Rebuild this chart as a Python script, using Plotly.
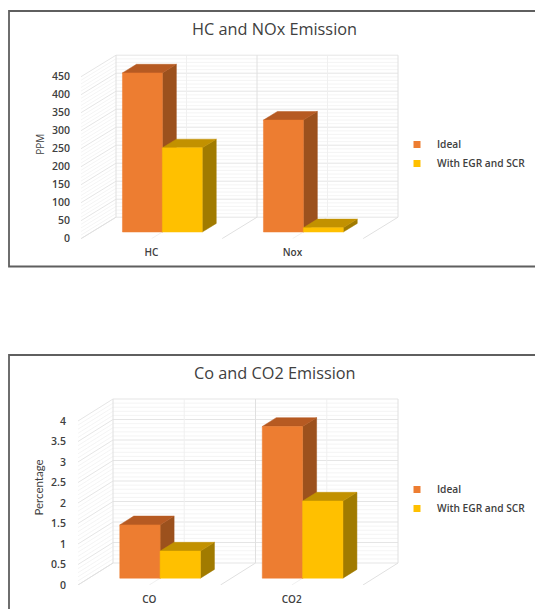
import plotly.graph_objects as go

FIG_W, FIG_H = 535, 609

series_names = ["Ideal", "With EGR and SCR"]

categories_top = ["HC", "Nox"]
ideal_top = [442, 311]
egr_top = [234, 12]
ticks_top = [0, 50, 100, 150, 200, 250, 300, 350, 400, 450]

categories_bottom = ["CO", "CO2"]
ideal_bottom = [1.3, 3.7]
egr_bottom = [0.66, 1.88]
ticks_bottom = [0, 0.5, 1, 1.5, 2, 2.5, 3, 3.5, 4]
ticktext_bottom = ["0", "0.5", "1", "1.5", "2", "2.5", "3", "3.5", "4"]

FRONT = {"Ideal": "#ED7D31", "With EGR and SCR": "#FFC000"}
TOP = {"Ideal": "#B65A22", "With EGR and SCR": "#C29100"}
SIDE = {"Ideal": "#9C511D", "With EGR and SCR": "#A17B00"}
TEXT = "#404040"
FONT = "Open Sans"

BAR_W = 0.283
BAR_D0, BAR_D1 = 0.31, 0.71

fig = go.Figure()
lay = {}


def panel(idx, cats, s1, s2, ticks, ticktext, ytitle, title_font,
          left, catw, y0px, toppx, pxunit, dxpx, dypx, minor_div, tick_standoff,
          title_standoff, legend_top, x_standoff):
    suffix = "" if idx == 1 else str(idx)
    xa, ya = "x" + suffix, "y" + suffix
    dx = dxpx / catw
    dy = dypx / pxunit
    vtop = ticks[-1]

    def add_lines(xs, ys, color, width):
        fig.add_trace(go.Scatter(x=xs, y=ys, mode="lines", line=dict(color=color, width=width),
                                 xaxis=xa, yaxis=ya, showlegend=False, hoverinfo="skip"))

    def poly(xs, ys, color, name=None):
        fig.add_trace(go.Scatter(x=xs, y=ys, mode="lines", fill="toself", fillcolor=color,
                                 line=dict(color=color, width=0.5), xaxis=xa, yaxis=ya,
                                 showlegend=False, name=name, hoverinfo="skip"))

    L, R = -0.5, len(cats) - 0.5
    # minor grid
    xs, ys = [], []
    n = (len(ticks) - 1) * minor_div
    for i in range(n + 1):
        v = vtop * i / n
        if i % minor_div:
            xs += [L, L + dx, R + dx, None]
            ys += [v, v + dy, v + dy, None]
    add_lines(xs, ys, "#f1f1f1", 0.8)
    # major grid
    xs, ys = [], []
    for v in ticks:
        xs += [L, L + dx, R + dx, None]
        ys += [v, v + dy, v + dy, None]
    add_lines(xs, ys, "#e2e2e2", 0.9)
    # category mid lines
    xs, ys = [], []
    for k in range(len(cats)):
        xs += [k + dx, k + dx, None, k, k + dx, None]
        ys += [dy, vtop + dy, None, 0, dy, None]
    add_lines(xs, ys, "#eeeeee", 0.9)
    # category boundaries
    xs, ys = [], []
    for k in range(len(cats) + 1):
        u = L + k
        xs += [u, u + dx, u + dx, None]
        ys += [0, dy, vtop + dy, None]
    add_lines(xs, ys, "#e0e0e0", 1)

    # bars, back to front
    for k in range(len(cats)):
        for j, (name, vals) in enumerate(zip(series_names, (s1, s2))):
            v = vals[k]
            x0 = k - BAR_W + j * BAR_W + BAR_D0 * dx
            x1 = x0 + BAR_W
            b = BAR_D0 * dy
            depth_u = (BAR_D1 - BAR_D0) * dx
            depth_v = (BAR_D1 - BAR_D0) * dy
            poly([x1, x1 + depth_u, x1 + depth_u, x1, x1], [b, b + depth_v, b + depth_v + v, b + v, b], SIDE[name])
            poly([x0, x1, x1 + depth_u, x0 + depth_u, x0],
                 [b + v, b + v, b + v + depth_v, b + v + depth_v, b + v], TOP[name])
            poly([x0, x1, x1, x0, x0], [b, b, b + v, b + v, b], FRONT[name], name)

    legend_id = "legend" + suffix
    for name in series_names:
        fig.add_trace(go.Scatter(x=[None], y=[None], mode="markers", name=name, xaxis=xa, yaxis=ya,
                                 marker=dict(symbol="square", size=7, color=FRONT[name]),
                                 legend=legend_id, showlegend=True))

    top_dom = 1 - toppx / FIG_H
    bot_dom = 1 - y0px / FIG_H
    lay["xaxis" + suffix] = dict(
        domain=[left / FIG_W, 1], range=[L, L + (FIG_W - left) / catw], anchor=ya, automargin=False,
        tickmode="array", tickvals=list(range(len(cats))), ticktext=cats,
        showgrid=False, zeroline=False, showline=False, ticks="", ticklabelstandoff=x_standoff,
        tickfont=dict(family=FONT, size=10, color=TEXT, weight=600))
    lay["yaxis" + suffix] = dict(
        domain=[bot_dom, top_dom], range=[0, (y0px - toppx) / pxunit], anchor=xa, automargin=False,
        tickmode="array", tickvals=ticks, ticktext=ticktext,
        showgrid=False, zeroline=False, showline=False, ticks="", ticklabelstandoff=tick_standoff,
        tickfont=dict(family=FONT, size=10.5, color=TEXT, weight=600),
        title=dict(text=ytitle, standoff=title_standoff, font=title_font))
    lay[legend_id] = dict(x=397 / FIG_W, y=1 - legend_top / FIG_H, xanchor="left", yanchor="top",
                          bgcolor="rgba(0,0,0,0)", borderwidth=0,
                          font=dict(family=FONT, size=10.2, color=TEXT, weight=600))


panel(1, categories_top, ideal_top, egr_top, ticks_top, [str(t) for t in ticks_top], "PPM",
      dict(family=FONT, size=10, color=TEXT),
      left=81, catw=141, y0px=238.7, toppx=50, pxunit=0.36, dxpx=35, dypx=21.5, minor_div=5,
      tick_standoff=10, title_standoff=5, legend_top=130, x_standoff=6)
panel(2, categories_bottom, ideal_bottom, egr_bottom, ticks_bottom, ticktext_bottom, "Percentage",
      dict(family="Lato", size=11.5, color=TEXT),
      left=78, catw=142.5, y0px=585, toppx=390, pxunit=41, dxpx=35, dypx=22, minor_div=5,
      tick_standoff=11, title_standoff=5, legend_top=475, x_standoff=7)

titles = [("HC and NOx Emission", 274.5, 29), ("Co and CO2 Emission", 274.5, 373)]
annotations = [dict(text=t, x=x / FIG_W, y=1 - y / FIG_H, xref="paper", yref="paper", showarrow=False,
                    xanchor="center", yanchor="middle", font=dict(family=FONT, size=16.3, color=TEXT))
               for t, x, y in titles]


def frame(x0, y0, x1, y1):
    return dict(type="rect", xref="paper", yref="paper", x0=x0 / FIG_W, x1=x1 / FIG_W,
                y0=1 - y0 / FIG_H, y1=1 - y1 / FIG_H, line=dict(color="#5f5f5f", width=1.8),
                fillcolor="rgba(0,0,0,0)", layer="above")


fig.update_layout(
    width=FIG_W, height=FIG_H, margin=dict(l=0, r=0, t=0, b=0),
    paper_bgcolor="white", plot_bgcolor="rgba(0,0,0,0)", font=dict(family=FONT, color=TEXT),
    annotations=annotations,
    shapes=[frame(9, 11, 560, 266.5), frame(9, 355, 560, 640)],
    **lay)

fig.write_html("out.html", config={"displayModeBar": False},
               post_script="document.body.style.margin='0';")
